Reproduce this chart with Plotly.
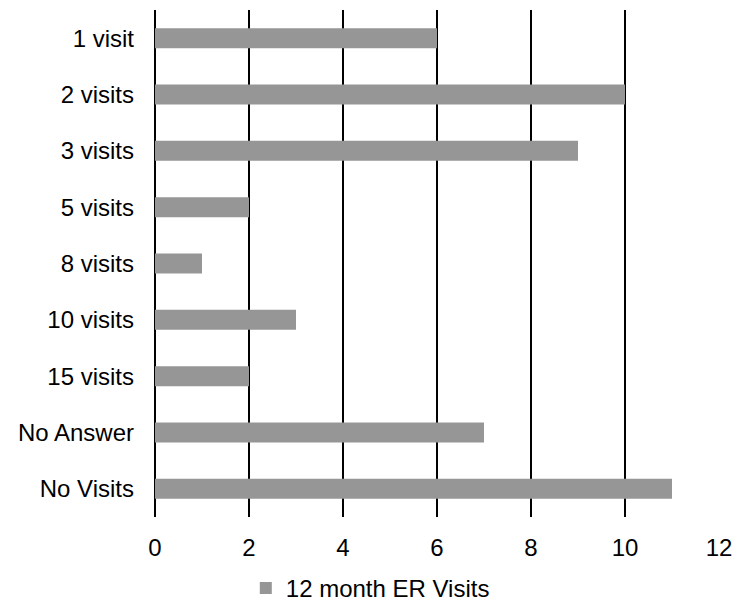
import plotly.graph_objects as go

categories = ["1 visit", "2 visits", "3 visits", "5 visits", "8 visits",
              "10 visits", "15 visits", "No Answer", "No Visits"]
values = [6, 10, 9, 2, 1, 3, 2, 7, 11]
x_ticks = [0, 2, 4, 6, 8, 10, 12]
series_name = "12 month ER Visits"

fig = go.Figure(
    go.Bar(
        y=categories,
        x=values,
        orientation="h",
        name=series_name,
        marker=dict(color="#969696", line=dict(width=0)),
        showlegend=True,
    )
)

font = dict(family="Liberation Sans, Arial, sans-serif", size=24, color="#000000")

fig.update_layout(
    width=750,
    height=611,
    margin=dict(l=155, r=31, t=10, b=94, autoexpand=False),
    paper_bgcolor="white",
    plot_bgcolor="white",
    font=font,
    bargap=0.645,
    showlegend=True,
    legend=dict(
        orientation="h",
        x=0.161,
        xanchor="left",
        yref="container",
        y=-0.011,
        yanchor="bottom",
        font=font,
        itemwidth=30,
    ),
    xaxis=dict(
        range=[0, 12],
        tickvals=x_ticks,
        showgrid=True,
        gridcolor="#000000",
        gridwidth=1.5,
        zeroline=True,
        zerolinecolor="#000000",
        zerolinewidth=2,
        showline=False,
        ticks="",
        ticklabelstandoff=14,
        tickfont=font,
        automargin=False,
    ),
    yaxis=dict(
        autorange="reversed",
        showgrid=False,
        showline=False,
        ticks="",
        ticklabelstandoff=20,
        tickfont=font,
        automargin=False,
    ),
)

fig.write_html("out.html")
